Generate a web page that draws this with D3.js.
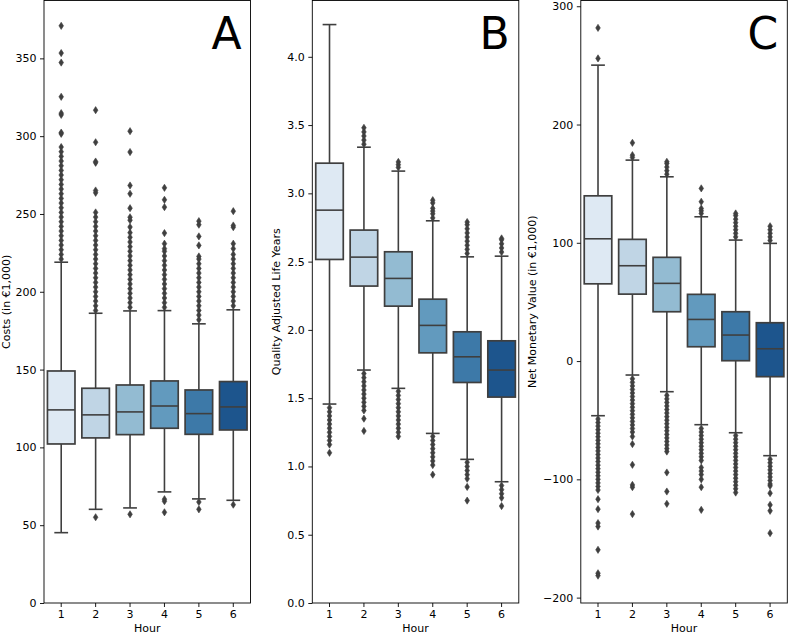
<!DOCTYPE html>
<html>
<head>
<meta charset="utf-8">
<script src="https://cdn.jsdelivr.net/npm/d3@7"></script>
<style>
html,body{margin:0;padding:0;background:#fff;}
svg{display:block;}
text{font-family:"DejaVu Sans",sans-serif;}
</style>
</head>
<body>
<svg id="chart" width="788" height="635"></svg>
<script>
// ---------------- data ----------------
const hours = ["1","2","3","4","5","6"];

// Panel A: Costs (in €1,000)
const costWhiskerLow  = [45.2, 60.2, 61.1, 71.4, 66.9, 66.0];
const costQ1          = [102.2, 106.1, 108.2, 112.3, 108.4, 111.2];
const costMedian      = [124.1, 120.9, 122.8, 126.6, 121.7, 126.0];
const costQ3          = [149.1, 138.0, 140.1, 142.7, 136.9, 142.3];
const costWhiskerHigh = [219.0, 186.2, 187.7, 187.9, 179.4, 188.4];
const costOutliers = [
  [221,224,227,230,233,236,239,242,245,248,251,254,257,260,263,266,269,272,275,278,281,284,287,290,293,301.5,302.3,313.7,314.8,325.3,347.3,353.4,370.9],
  [55.1,188,191,194,197,200,203,206,209,212,215,218,221,224,227,230,233,236,239,242,245,248,251,263.6,265.1,282.9,283.7,296.1,316.7],
  [57.0,190,193,196,199,202,205,208,211,214,217,220,223,226,229,232,235,238,241.6,246,247.9,253.7,263,268.3,289.8,303.2],
  [58.3,65.4,66.7,190,193,196,199,202,205,208,211,214,217,220,223,226,227.7,230.9,237.7,254.4,259.1,266.8],
  [60.2,64.9,182,185,188,191,194,197,200,203,206,209,212,215,218,221,222.7,229.8,235.6,243.1,245.4],
  [63.2,191,194,197,200,203,206,209,212,215,218,221,224,227.7,230.9,241.5,242.6,251.8]
];
const costTicks = [0,50,100,150,200,250,300,350];

// Panel B: Quality Adjusted Life Years
const qalyWhiskerLow  = [1.457, 1.706, 1.572, 1.242, 1.052, 0.888];
const qalyQ1          = [2.516, 2.321, 2.174, 1.832, 1.615, 1.508];
const qalyMedian      = [2.877, 2.533, 2.377, 2.033, 1.803, 1.706];
const qalyQ3          = [3.221, 2.731, 2.572, 2.225, 1.986, 1.920];
const qalyWhiskerHigh = [4.236, 3.338, 3.163, 2.799, 2.535, 2.540];
const qalyOutliers = [
  [1.43,1.40,1.37,1.34,1.31,1.28,1.25,1.22,1.19,1.16,1.10],
  [3.36,3.39,3.42,3.45,3.48,1.68,1.65,1.62,1.59,1.56,1.53,1.50,1.47,1.44,1.41,1.35,1.26],
  [3.19,3.21,3.23,1.55,1.52,1.49,1.46,1.43,1.40,1.37,1.34,1.31,1.28,1.25,1.22],
  [2.82,2.85,2.87,2.89,2.93,2.95,1.22,1.19,1.16,1.13,1.10,1.07,1.04,1.01,0.94],
  [2.56,2.59,2.62,2.65,2.68,2.71,2.74,2.77,2.79,1.03,1.00,0.97,0.94,0.91,0.85,0.75],
  [2.57,2.60,2.63,2.66,2.67,0.86,0.83,0.80,0.77,0.71]
];
const qalyTicks = [0,0.5,1.0,1.5,2.0,2.5,3.0,3.5,4.0];

// Panel C: Net Monetary Value (in €1,000)
const nmvWhiskerLow  = [-46.2, -11.8, -25.9, -53.8, -60.6, -80.0];
const nmvQ1          = [65.3, 56.6, 41.7, 12.1, 0.3, -13.2];
const nmvMedian      = [103.4, 80.6, 65.7, 35.2, 22.0, 10.4];
const nmvQ3          = [139.7, 102.9, 87.7, 56.4, 41.7, 32.4];
const nmvWhiskerHigh = [250.2, 169.9, 155.8, 122.0, 102.3, 99.5];
const nmvOutliers = [
  [255.9,281.7,-49,-52,-55,-58,-61,-64,-67,-70,-73,-76,-79,-82,-85,-88,-91,-94,-97,-100,-103,-106,-109,-116.8,-125.2,-137,-139.9,-159.6,-179.4,-181.4],
  [172.2,174.1,184.5,-15,-18,-21,-24,-27,-30,-33,-36,-39,-42,-45,-48,-51,-54,-57,-60,-63.8,-70.2,-87.7,-104.7,-106.6,-129.4],
  [158,161,164,167,168.5,-29,-32,-35,-38,-41,-44,-47,-50,-53,-56,-59,-62,-65,-68,-71,-74,-76.5,-94.2,-110.3,-120.7],
  [124.8,127,129,134.7,146,-57,-60,-63,-66,-69,-72,-75,-78,-81,-84,-90,-93,-96,-100,-106.6,-125.8],
  [105,108,111,114,117,120,123,124.8,-63,-66,-69,-72,-75,-78,-81,-84,-87,-90,-93,-96,-99,-102,-105,-108,-111.2],
  [102,105,108,111,114,-83,-86,-89,-92,-95,-98,-101,-104,-105.5,-111.7,-121.6,-126.6,-145.5]
];
const nmvTicks = [-200,-100,0,100,200,300];

// ---------------- style ----------------
const boxColors = ["#dee9f3","#c0d5e5","#93bbd2","#629abe","#3d79a8","#1d558d"];
const lineColor = "#3f3f3f";
const plotTop = 0.5, plotBottom = 603, panelW = 206.5;
const svg = d3.select("#chart");

function drawPanel(opt) {
  const g = svg.append("g");
  const x = d3.scaleBand().domain(hours).range([opt.left, opt.left + panelW]).paddingInner(0).paddingOuter(0);
  const all = [].concat(opt.wlo, opt.whi, ...opt.out);
  const mn = d3.min(all), mx = d3.max(all), span = mx - mn;
  const lo = opt.zeroBase ? 0 : mn - 0.05 * span;
  const hi = mx + 0.05 * span;
  const y = d3.scaleLinear().domain([lo, hi]).range([plotBottom, plotTop]);
  const bw = x.bandwidth() * 0.8;
  const cw = bw * 0.5;

  hours.forEach((h, i) => {
    const cx = x(h) + x.bandwidth() / 2;
    g.append("line").attr("x1", cx).attr("x2", cx).attr("y1", y(opt.q3[i])).attr("y2", y(opt.whi[i]))
      .attr("stroke", lineColor).attr("stroke-width", 1.6);
    g.append("line").attr("x1", cx).attr("x2", cx).attr("y1", y(opt.q1[i])).attr("y2", y(opt.wlo[i]))
      .attr("stroke", lineColor).attr("stroke-width", 1.6);
    [opt.whi[i], opt.wlo[i]].forEach(v => {
      g.append("line").attr("x1", cx - cw / 2).attr("x2", cx + cw / 2).attr("y1", y(v)).attr("y2", y(v))
        .attr("stroke", lineColor).attr("stroke-width", 1.6);
    });
    g.append("rect").attr("x", cx - bw / 2).attr("width", bw)
      .attr("y", y(opt.q3[i])).attr("height", y(opt.q1[i]) - y(opt.q3[i]))
      .attr("fill", boxColors[i]).attr("stroke", lineColor).attr("stroke-width", 1.7);
    g.append("line").attr("x1", cx - bw / 2).attr("x2", cx + bw / 2)
      .attr("y1", y(opt.med[i])).attr("y2", y(opt.med[i]))
      .attr("stroke", lineColor).attr("stroke-width", 1.6);
    g.selectAll(null).data(opt.out[i]).enter().append("path")
      .attr("transform", d => `translate(${cx},${y(d)})`)
      .attr("d", "M0,-3.6L2.3,0L0,3.6L-2.3,0Z")
      .attr("fill", lineColor).attr("stroke", lineColor).attr("stroke-width", 0.6);
  });

  g.append("rect").attr("x", opt.left).attr("y", plotTop).attr("width", panelW).attr("height", plotBottom - plotTop)
    .attr("fill", "none").attr("stroke", "#000").attr("stroke-width", 0.9);

  const ya = g.append("g").attr("transform", `translate(${opt.left},0)`)
    .call(d3.axisLeft(y).tickValues(opt.ticks).tickFormat(opt.fmt).tickSize(4).tickSizeOuter(0).tickPadding(3.6));
  const xa = g.append("g").attr("transform", `translate(0,${plotBottom})`)
    .call(d3.axisBottom(x).tickSize(4).tickSizeOuter(0).tickPadding(3.6));
  [ya, xa].forEach(a => {
    a.select(".domain").remove();
    a.selectAll("line").attr("stroke", "#000").attr("stroke-width", 0.9);
    a.selectAll("text").attr("fill", "#000").style("font-size", "11px").style("font-family", "DejaVu Sans");
  });

  g.append("text").attr("x", opt.left + panelW / 2).attr("y", 632).attr("text-anchor", "middle")
    .style("font-size", "11px").attr("fill", "#000").text("Hour");
  g.append("text").attr("transform", `translate(${opt.labelX},${(plotTop + plotBottom) / 2}) rotate(-90)`)
    .attr("text-anchor", "middle").style("font-size", "11px").attr("fill", "#000").text(opt.ylabel);

  g.append("text").attr("x", opt.left + panelW - 9).attr("y", 49).attr("text-anchor", "end")
    .style("font-size", "44px").attr("fill", "#000").text(opt.letter);
}

drawPanel({left: 44, wlo: costWhiskerLow, q1: costQ1, med: costMedian, q3: costQ3, whi: costWhiskerHigh,
  out: costOutliers, ticks: costTicks, fmt: d3.format("d"), zeroBase: true,
  ylabel: "Costs (in €1,000)", labelX: 9.5, letter: "A"});
drawPanel({left: 312.3, wlo: qalyWhiskerLow, q1: qalyQ1, med: qalyMedian, q3: qalyQ3, whi: qalyWhiskerHigh,
  out: qalyOutliers, ticks: qalyTicks, fmt: d3.format(".1f"), zeroBase: true,
  ylabel: "Quality Adjusted Life Years", labelX: 280, letter: "B"});
drawPanel({left: 580.8, wlo: nmvWhiskerLow, q1: nmvQ1, med: nmvMedian, q3: nmvQ3, whi: nmvWhiskerHigh,
  out: nmvOutliers, ticks: nmvTicks, fmt: d3.format("d"), zeroBase: false,
  ylabel: "Net Monetary Value (in €1,000)", labelX: 536, letter: "C"});
</script>
</body>
</html>
